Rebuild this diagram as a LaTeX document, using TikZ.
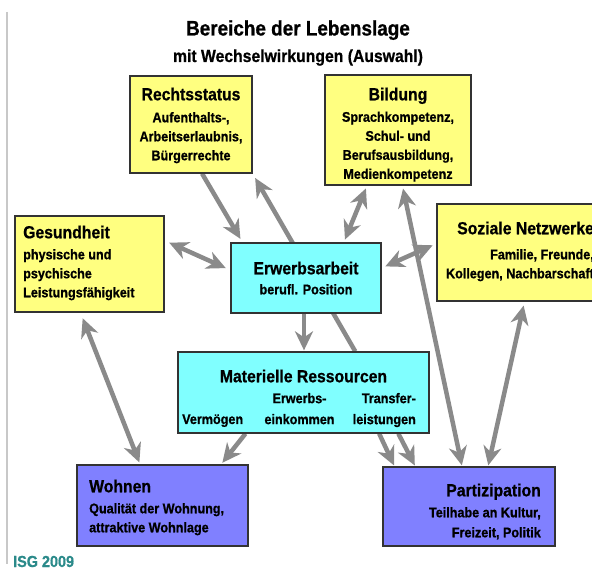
\documentclass[tikz,border=0pt]{standalone}
\usepackage{fontspec}
\setmainfont{Liberation Sans}[FakeStretch=0.9, BoldFeatures={FakeBold=0.8}]
\usepackage{xcolor}
\usetikzlibrary{arrows.meta,calc,backgrounds}
\definecolor{boxyellow}{HTML}{FFFF80}
\definecolor{boxcyan}{HTML}{80FFFF}
\definecolor{boxblue}{HTML}{8080FF}
\definecolor{arrowgray}{HTML}{8A8A8A}
\definecolor{isgteal}{HTML}{2B8A8A}
\definecolor{framegray}{HTML}{C8C8C8}
\newcommand{\headfont}{\fontsize{17.5}{21}\selectfont}
\newcommand{\bodyfont}{\fontsize{14}{19}\selectfont}

\begin{document}
\begin{tikzpicture}[x=1pt, y=-1pt,
  >={Stealth[length=19pt,width=18pt,inset=6pt]},
  area/.style={draw=black!80, line width=1.3pt, inner sep=0pt},
  areatext/.style={font=\bfseries\bodyfont, inner sep=0pt},
  link/.style={draw=arrowgray, line width=4.5pt, ->},
  linkboth/.style={draw=arrowgray, line width=4.5pt, <->}]
  \useasboundingbox (0,0) rectangle (592,569);
  \clip (0,0) rectangle (592,569);

  % ======= frame and title =======
  \draw[framegray, line width=2.5pt] (7,12) -- (7,564);
  \node[font=\bfseries\fontsize{21}{25}\selectfont, anchor=base, inner sep=0pt] (title) at (298,35.5) {Bereiche der Lebenslage};
  \node[font=\bfseries\headfont, anchor=base, inner sep=0pt] (subtitle) at (298,62) {mit Wechselwirkungen (Auswahl)};

  % ======= areas (top row) =======
  \node[area, fill=boxyellow, minimum width=122pt, minimum height=97pt] (rs) at (191,124.5) {};
  \node[areatext, align=center, anchor=north] (rs-txt) at (191,87.4)
    {{\headfont Rechtsstatus}\\[3pt] Aufenthalts-,\\ Arbeitserlaubnis,\\ Bürgerrechte};

  \node[area, fill=boxyellow, minimum width=146pt, minimum height=110pt] (bild) at (398,130) {};
  \node[areatext, align=center, anchor=north] (bild-txt) at (398,87.4)
    {{\headfont Bildung}\\[2.5pt] Sprachkompetenz,\\ Schul- und\\ Berufsausbildung,\\ Medienkompetenz};

  % ======= areas (middle row) =======
  \node[area, fill=boxyellow, minimum width=149pt, minimum height=96pt] (ges) at (89.5,264) {};
  \node[areatext, align=left, anchor=north west] (ges-txt) at (23,225.4)
    {{\headfont Gesundheit}\\[2pt] physische und\\ psychische\\ Leistungsfähigkeit};

  \node[area, fill=boxcyan, minimum width=150pt, minimum height=70pt] (erw) at (306,278) {};
  \node[areatext, align=center, anchor=north] (erw-txt) at (306,261.4)
    {{\headfont Erwerbsarbeit}\\[1pt] berufl. Position};

  \node[area, fill=boxyellow, minimum width=165pt, minimum height=97pt] (soz) at (519.5,252.5) {};
  \node[areatext, align=right, anchor=north east] (soz-txt) at (594,221.4)
    {{\headfont Soziale Netzwerke}\\[6pt] Familie, Freunde,\\ Kollegen, Nachbarschaft};

  \node[area, fill=boxcyan, minimum width=251pt, minimum height=81pt] (mat) at (303.5,392.5) {};
  \node[areatext, anchor=north] (mat-txt) at (303.5,369.4) {\headfont Materielle Ressourcen};
  \node[areatext, anchor=base west] (mat-verm) at (182,424) {Vermögen};
  \node[areatext, align=center, anchor=north] (mat-eink) at (299.5,392.8) {Erwerbs-\\[2pt] einkommen};
  \node[areatext, align=right, anchor=north east] (mat-trans) at (416,392.8) {Transfer-\\[2pt] leistungen};

  % ======= areas (bottom row) =======
  \node[area, fill=boxblue, minimum width=171pt, minimum height=81pt] (wohn) at (162.5,505.5) {};
  \node[areatext, align=left, anchor=north west] (wohn-txt) at (89,479.4)
    {{\headfont Wohnen}\\[2pt] Qualität der Wohnung,\\ attraktive Wohnlage};

  \node[area, fill=boxblue, minimum width=172pt, minimum height=79pt] (part) at (469,506.5) {};
  \node[areatext, align=right, anchor=north east] (part-txt) at (541,483.4)
    {{\headfont Partizipation}\\[2pt] Teilhabe an Kultur,\\[1pt] Freizeit, Politik};

  \node[font=\bfseries\fontsize{16}{19}\selectfont, text=isgteal, anchor=base west, inner sep=0pt] (isg) at (13,567) {ISG 2009};

  % ======= interactions (behind the boxes) =======
  \begin{pgfonlayer}{background}
    \draw[link, shorten >=4pt] ($(rs.south west)!0.59!(rs.south east)$) -- ($(erw.north west)!0.08!(erw.north east)$);
    \draw[link, shorten >=5pt] ($(mat.north west)!0.705!(mat.north east)$) -- (rs.south east);
    \draw[linkboth, shorten <=3pt, shorten >=3pt] ($(erw.north west)!0.75!(erw.north east)$) -- ($(bild.south west)!0.29!(bild.south east)$);
    \draw[linkboth, shorten <=5pt, shorten >=5pt] ($(ges.north east)!0.26!(ges.south east)$) -- ($(erw.north west)!0.39!(erw.south west)$);
    \draw[linkboth, shorten <=4pt, shorten >=4pt] ($(erw.north east)!0.36!(erw.south east)$) -- ($(soz.north west)!0.41!(soz.south west)$);
    \draw[link, shorten >=1pt] ([xshift=-2pt]erw.south) -- ([xshift=-2pt]erw.south |- mat.north);
    \draw[linkboth, shorten <=6pt, shorten >=2pt] ($(ges.south west)!0.44!(ges.south east)$) -- ($(wohn.north west)!0.37!(wohn.north east)$);
    \draw[link, shorten >=2pt] ($(mat.south west)!0.27!(mat.south east)$) -- ($(wohn.north west)!0.84!(wohn.north east)$);
    \draw[link, shorten >=1pt] ($(mat.south west)!0.8!(mat.south east)$) -- ($(part.north west)!0.07!(part.north east)$);
    \draw[link, shorten >=1pt] ($(mat.south west)!0.876!(mat.south east)$) -- ($(part.north west)!0.19!(part.north east)$);
    \draw[linkboth, shorten <=3pt, shorten >=1pt] ($(bild.south west)!0.53!(bild.south east)$) -- ($(part.north west)!0.46!(part.north east)$);
    \draw[linkboth, shorten <=4pt, shorten >=1pt] ($(soz.south west)!0.53!(soz.south east)$) -- ($(part.north west)!0.61!(part.north east)$);
  \end{pgfonlayer}
\end{tikzpicture}
\end{document}
